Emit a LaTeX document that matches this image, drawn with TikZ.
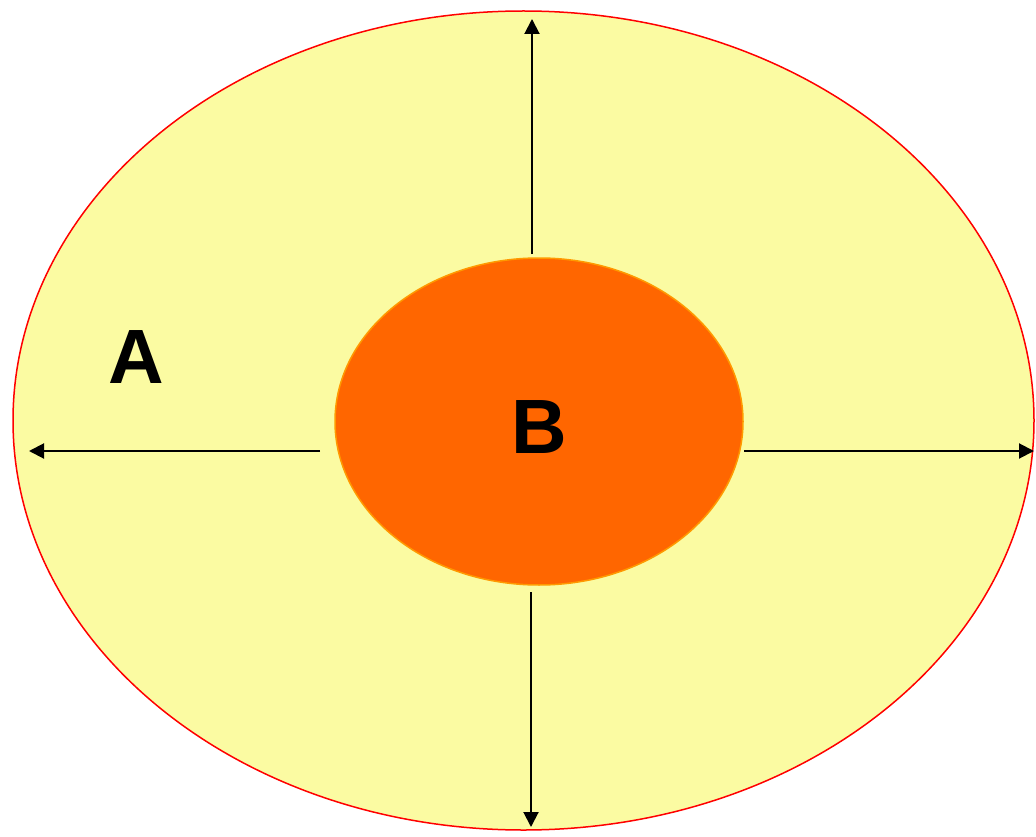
\documentclass[tikz,border=0pt]{standalone}
\usepackage{fontspec}
\setmainfont{Liberation Sans}
\usetikzlibrary{shapes.geometric,arrows.meta}
\definecolor{paleyellow}{HTML}{FBFBA2}
\definecolor{coreorange}{HTML}{FF6600}
\definecolor{coreedge}{HTML}{FF9900}
\tikzset{
  outerell/.style={ellipse, draw=red, line width=1.5pt, fill=paleyellow, inner sep=0pt},
  innerell/.style={ellipse, draw=coreedge, line width=1.5pt, fill=coreorange, inner sep=0pt},
  flowarrow/.style={line width=2pt, -{Triangle[length=15pt,width=15pt]}},
  biglabel/.style={font=\fontsize{77}{80}\selectfont\bfseries, inner sep=0pt}
}
\begin{document}
\begin{tikzpicture}[x=1pt,y=-1pt]
\useasboundingbox (0,0) rectangle (1036,837);
\node[outerell, minimum width=1021pt, minimum height=819pt] (outer) at (523.5,420.5) {};
\node[innerell, minimum width=408pt, minimum height=327pt] (inner) at (539,421.5) {};
\node[biglabel] (A) at (136,357) {A};
\node[biglabel] (B) at (539,427) {B};
\coordinate (upS) at (532,254);
\coordinate (upE) at (532,19);
\coordinate (dnS) at (531,592);
\coordinate (dnE) at (531,827);
\coordinate (lfS) at (320,451);
\coordinate (lfE) at (29,451);
\coordinate (rtS) at (744,451);
\coordinate (rtE) at (1034,451);
\draw[flowarrow] (upS) -- (upE);
\draw[flowarrow] (dnS) -- (dnE);
\draw[flowarrow] (lfS) -- (lfE);
\draw[flowarrow] (rtS) -- (rtE);
\end{tikzpicture}
\end{document}
